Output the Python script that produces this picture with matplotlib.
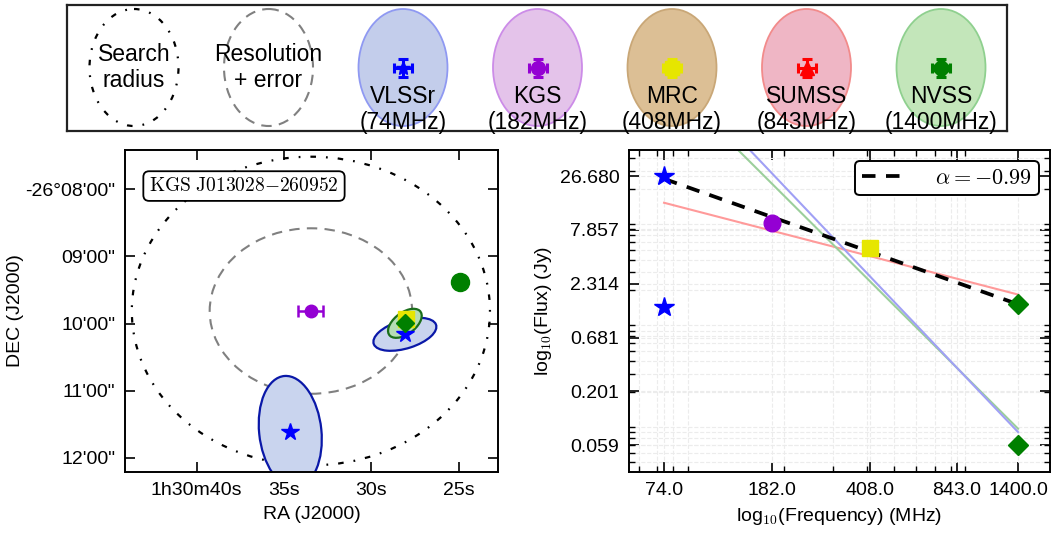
import numpy as np
import matplotlib
matplotlib.use('Agg')
import matplotlib.pyplot as plt
from matplotlib.patches import Ellipse
from matplotlib.transforms import Affine2D
from matplotlib.ticker import FixedLocator, FixedFormatter, NullFormatter
from matplotlib.lines import Line2D

plt.rcParams['font.family'] = ['Liberation Sans', 'DejaVu Sans']
plt.rcParams['mathtext.fontset'] = 'cm'
plt.rcParams['axes.linewidth'] = 1.4

# ---------------- data ----------------
# catalogue legend
cat_names = ['VLSSr', 'KGS', 'MRC', 'SUMSS', 'NVSS']
cat_freq_labels = ['74MHz', '182MHz', '408MHz', '843MHz', '1400MHz']
cat_markers = ['*', 'o', 's', '^', 'D']
cat_colors = ['blue', 'darkviolet', '#e6e600', 'red', 'green']
cat_fill = ['#c3cdeb', '#e4c3ea', '#dcbf95', '#efb6c5', '#c3e6ba']
cat_edge = ['#8f99f2', '#cc8ce8', '#c9a777', '#f28b8b', '#8fd08f']

# sky positions: RA seconds after 1h30m, DEC arcmin after -26d
dec_ref = -26.16
vlss_ra = [34.64, 28.08]
vlss_dec = [11.612, 10.161]
vlss_bmaj = [100.0, 51.0]      # arcsec
vlss_bmin = [48.0, 25.0]
vlss_pa = [5.0, 20.6]
vlss_along = ['v', 'h']
kgs_ra, kgs_dec, kgs_ra_err = 33.46, 9.814, 0.72
mrc_ra, mrc_dec = 27.99, 9.940
nvss_ra = [28.08, 24.93]
nvss_dec = [9.997, 9.386]
nvss_bmaj, nvss_bmin, nvss_pa = 32.0, 18.0, 45.0
search_radius = 138.0          # arcsec
resol_w, resol_h = 156.0, 148.0  # arcsec
source_name = r'$\mathrm{KGS\ J013028{-}260952}$'

ra_ticks = [40, 35, 30, 25]
ra_ticklabels = ['1h30m40s', '35s', '30s', '25s']
dec_ticks = [8, 9, 10, 11, 12]
dec_ticklabels = ['-26°08\'00"', '09\'00"', '10\'00"', '11\'00"', '12\'00"']

# spectrum
sed_freq = [74, 182, 408, 1400]
sed_flux = [26.68, 9.11, 5.20, 1.445]
sed_markers = ['*', 'o', 's', 'D']
sed_colors = ['blue', 'darkviolet', '#e6e600', 'green']
sed_ms = [15, 12, 12, 10]
extra_freq = [74, 1400]
extra_flux = [1.368, 0.059]
extra_markers = ['*', 'D']
extra_colors = ['blue', 'green']
alpha_label = -0.99
line_freq = [74, 1400]
line_red = [14.55, 1.81]
line_blue = [373.0, 0.0798]
line_green = [257.0, 0.0861]
freq_ticks = [74, 182, 408, 843, 1400]
flux_ticks = [0.059, 0.201, 0.681, 2.314, 7.857, 26.680]

# ---------------- figure ----------------
W, H = 1055, 536
fig = plt.figure(figsize=(W / 100, H / 100), dpi=100)

# ---- top legend panel ----
axL = fig.add_axes([67 / W, 1 - 131 / H, 940 / W, 126 / H])
axL.set_xlim(0, 940)
axL.set_ylim(126, 0)
axL.set_xticks([])
axL.set_yticks([])
for s in axL.spines.values():
    s.set_linewidth(1.6)
    s.set_color('#222222')
cx = [67 + i * 134.5 for i in range(7)]
cy = 62.5
ew, eh = 89, 117
axL.add_patch(Ellipse((cx[0], cy), ew, eh, fill=False, ec='black', lw=1.6,
                      ls=(0, (2.5, 4.5, 0.8, 4.5))))
axL.text(cx[0], cy, 'Search\nradius', ha='center', va='center', fontsize=16.5)
axL.add_patch(Ellipse((cx[1], cy), ew, eh, fill=False, ec='gray', lw=1.5,
                      ls=(0, (5, 3.5))))
axL.text(cx[1], cy, 'Resolution\n+ error', ha='center', va='center', fontsize=16.5)
for i in range(5):
    x = cx[i + 2]
    axL.add_patch(Ellipse((x, cy), ew, eh, fc=cat_fill[i], ec=cat_edge[i], lw=1.3))
    axL.errorbar([x], [cy], xerr=[9], yerr=[9], fmt=cat_markers[i], color=cat_colors[i],
                 ms=10, capsize=3.5, elinewidth=2.2, capthick=2.2, mec=cat_colors[i])
    axL.text(x, cy + 42, cat_names[i] + '\n(' + cat_freq_labels[i] + ')', ha='center',
             va='center', fontsize=16.5)

# ---- left sky panel ----
ax1 = fig.add_axes([125 / W, 1 - 472 / H, 373 / W, 322 / H])
ax1.set_xlim(44.10, 22.75)
ax1.set_ylim(12.213, 7.414)
cosd = np.cos(np.radians(dec_ref))


def sky_tr(ra, dec):
    return Affine2D().scale(-1 / (15 * cosd), -1 / 60.0).translate(ra, dec) + ax1.transData


ax1.add_patch(Ellipse((0, 0), 2 * search_radius, 2 * search_radius, fill=False, ec='black',
                      lw=1.6, ls=(0, (2.5, 4.5, 0.8, 4.5)), transform=sky_tr(kgs_ra, kgs_dec)))
ax1.add_patch(Ellipse((0, 0), resol_w, resol_h, fill=False, ec='gray', lw=1.5,
                      ls=(0, (5, 3.5)), transform=sky_tr(kgs_ra, kgs_dec)))
for i in range(2):
    if vlss_along[i] == 'v':
        w, h = vlss_bmin[i], vlss_bmaj[i]
    else:
        w, h = vlss_bmaj[i], vlss_bmin[i]
    ax1.add_patch(Ellipse((0, 0), w, h, angle=vlss_pa[i], fc='#c9d4ee', ec='#0a18a8', lw=1.6,
                          transform=sky_tr(vlss_ra[i], vlss_dec[i]), zorder=2))
ax1.add_patch(Ellipse((0, 0), nvss_bmaj, nvss_bmin, angle=nvss_pa, fc='#b5dcb5', ec='#1a6e1a',
                      lw=1.6, transform=sky_tr(nvss_ra[0], nvss_dec[0]), zorder=3))
ax1.plot([mrc_ra], [mrc_dec], 's', color='#e6e600', ms=11, zorder=4)
ax1.plot([nvss_ra[0]], [nvss_dec[0]], 'D', color='green', ms=9, zorder=5)
ax1.plot([vlss_ra[1]], [vlss_dec[1]], '*', color='blue', ms=13, zorder=4)
ax1.plot([vlss_ra[0]], [vlss_dec[0]], '*', color='blue', ms=13, zorder=5)
ax1.plot([nvss_ra[1]], [nvss_dec[1]], 'o', color='green', ms=13, zorder=5)
ax1.errorbar([kgs_ra], [kgs_dec], xerr=[kgs_ra_err], fmt='o', color='darkviolet', ms=9,
             capsize=4, elinewidth=1.8, capthick=1.8, zorder=5)
ax1.text(0.319, 0.888, source_name, transform=ax1.transAxes, ha='center', va='center',
         fontsize=14, bbox=dict(boxstyle='round,pad=0.3', fc='white', ec='black', lw=1.3), zorder=6)
ax1.set_xticks(ra_ticks)
ax1.set_xticklabels(ra_ticklabels)
ax1.set_yticks(dec_ticks)
ax1.set_yticklabels(dec_ticklabels)
ax1.tick_params(direction='in', top=True, right=True, length=7, width=1.2, labelsize=14, pad=7)
ax1.set_xlabel('RA (J2000)', fontsize=14, labelpad=5)
ax1.set_ylabel('DEC (J2000)', fontsize=14, labelpad=1)

# ---- right spectrum panel ----
ax2 = fig.add_axes([629 / W, 1 - 472 / H, 421 / W, 322 / H])
ax2.set_xscale('log')
ax2.set_yscale('log')
ax2.set_xlim(55.3, 1826)
ax2.set_ylim(0.0322, 48.2)
ax2.grid(True, which='both', color='#ececec', ls='--', lw=0.8)
ax2.set_axisbelow(True)
ax2.plot(line_freq, line_red, color='#ff9a9a', lw=1.5, zorder=2)
ax2.plot(line_freq, line_green, color='#9ccf9c', lw=1.5, zorder=2)
ax2.plot(line_freq, line_blue, color='#a0a0f5', lw=1.5, zorder=2)
coef = np.polyfit(np.log10(sed_freq), np.log10(sed_flux), 1)
fit_y = 10 ** np.polyval(coef, np.log10(line_freq))
fit_line, = ax2.plot(line_freq, fit_y, color='black', lw=2.7, dashes=(3.6, 2.8), zorder=3)
for f, s, m, c, ms in zip(sed_freq, sed_flux, sed_markers, sed_colors, sed_ms):
    ax2.plot([f], [s], m, color=c, ms=ms, zorder=5)
for f, s, m, c in zip(extra_freq, extra_flux, extra_markers, extra_colors):
    ax2.plot([f], [s], m, color=c, ms=15 if m == '*' else 10, zorder=5)
ax2.xaxis.set_major_locator(FixedLocator(freq_ticks))
ax2.xaxis.set_major_formatter(FixedFormatter(['%.1f' % v for v in freq_ticks]))
ax2.xaxis.set_minor_formatter(NullFormatter())
ax2.yaxis.set_major_locator(FixedLocator(flux_ticks))
ax2.yaxis.set_major_formatter(FixedFormatter(['%.3f' % v for v in flux_ticks]))
ax2.yaxis.set_minor_formatter(NullFormatter())
ax2.tick_params(which='both', direction='in', top=True, right=True, labelsize=14)
ax2.tick_params(which='major', length=7, width=1.2, pad=7)
ax2.tick_params(which='minor', length=4, width=1)
ax2.set_xlabel('log$_{10}$(Frequency) (MHz)', fontsize=14, labelpad=5)
ax2.set_ylabel('log$_{10}$(Flux) (Jy)', fontsize=14)
leg = ax2.legend([fit_line], [r'$\alpha = %.2f$' % alpha_label], loc='upper right',
                 fontsize=16, fancybox=True, framealpha=1, handlelength=1.9,
                 borderpad=0.3, borderaxespad=0.5, handletextpad=1.4)
leg.get_frame().set_edgecolor('black')
leg.get_frame().set_linewidth(1.4)

fig.savefig('out.png', dpi=100)
